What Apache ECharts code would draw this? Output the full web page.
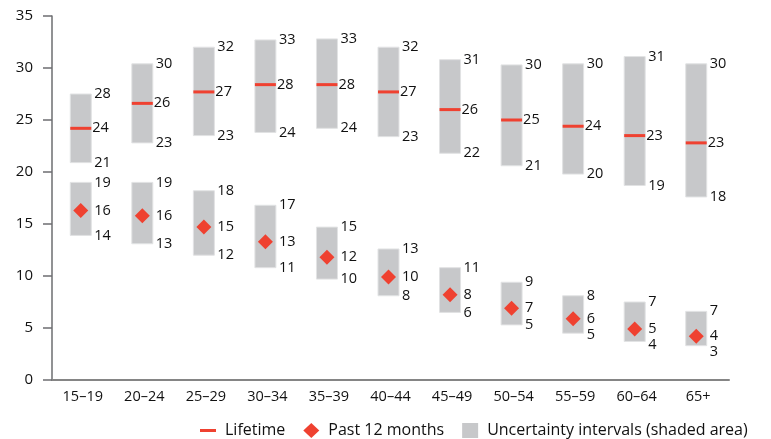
<!DOCTYPE html>
<html>
<head>
<meta charset="utf-8">
<script src="https://cdn.jsdelivr.net/npm/echarts@6/dist/echarts.min.js"></script>
<style>
  html, body { margin: 0; padding: 0; background: #fff; }
  #main { width: 771px; height: 439px; }
</style>
</head>
<body>
<div id="main"></div>
<script>
// categories
let ageGroups = ['15–19', '20–24', '25–29', '30–34', '35–39', '40–44', '45–49', '50–54', '55–59', '60–64', '65+']
let yTicks = [0, 5, 10, 15, 20, 25, 30, 35]

// lifetime (estimate + uncertainty interval)
let lifeMid = [24.2, 26.6, 27.7, 28.4, 28.4, 27.7, 26.0, 25.0, 24.4, 23.5, 22.8]
let lifeLow = [20.9, 22.8, 23.5, 23.8, 24.2, 23.4, 21.8, 20.6, 19.8, 18.7, 17.6]
let lifeHigh = [27.5, 30.4, 32.0, 32.7, 32.8, 32.0, 30.8, 30.3, 30.4, 31.1, 30.4]
let lifeMidLabel = ['24', '26', '27', '28', '28', '27', '26', '25', '24', '23', '23']
let lifeLowLabel = ['21', '23', '23', '24', '24', '23', '22', '21', '20', '19', '18']
let lifeHighLabel = ['28', '30', '32', '33', '33', '32', '31', '30', '30', '31', '30']

// past 12 months (estimate + uncertainty interval)
let pastMid = [16.3, 15.8, 14.7, 13.3, 11.8, 9.9, 8.2, 6.9, 5.9, 4.9, 4.2]
let pastLow = [13.9, 13.1, 12.0, 10.8, 9.7, 8.1, 6.5, 5.3, 4.5, 3.7, 3.3]
let pastHigh = [19.0, 19.0, 18.2, 16.8, 14.7, 12.6, 10.8, 9.4, 8.1, 7.5, 6.6]
let pastMidLabel = ['16', '16', '15', '13', '12', '10', '8', '7', '6', '5', '4']
let pastLowLabel = ['14', '13', '12', '11', '10', '8', '6', '5', '5', '4', '3']
let pastHighLabel = ['19', '19', '18', '17', '15', '13', '11', '9', '8', '7', '7']

const RED = '#ef4130'
const GREY = '#c7c8ca'
const TEXT = '#111111'
const FONT = '"Open Sans", sans-serif'
const BAR_W = 21
const SHIFT = -2
const MIN_GAP = 16 // keeps interval labels clear of the estimate label

let chart = echarts.init(document.getElementById('main'))

// grey interval box with the high / low numbers on its right
function renderInterval (params, api) {
  let x = api.value(0)
  let lo = api.coord([x, api.value(1)])
  let hi = api.coord([x, api.value(2)])
  let mid = api.coord([x, api.value(5)])
  let left = hi[0] - BAR_W / 2 + SHIFT
  let textX = left + BAR_W + 3
  let hiY = Math.min(hi[1], mid[1] - MIN_GAP)
  let loY = Math.max(lo[1], mid[1] + MIN_GAP)
  return {
    type: 'group',
    children: [{
      type: 'rect',
      shape: { x: left, y: hi[1], width: BAR_W, height: lo[1] - hi[1] },
      style: { fill: GREY, stroke: '#e2e3e4', lineWidth: 1 }
    }, {
      type: 'text',
      style: { text: api.value(4), x: textX, y: hiY, verticalAlign: 'middle', fill: TEXT, font: '14.5px ' + FONT }
    }, {
      type: 'text',
      style: { text: api.value(3), x: textX, y: loY, verticalAlign: 'middle', fill: TEXT, font: '14.5px ' + FONT }
    }]
  }
}

// red horizontal tick for the lifetime estimate
function renderLifetime (params, api) {
  let p = api.coord([api.value(0), api.value(1)])
  let left = p[0] - BAR_W / 2 + SHIFT
  return {
    type: 'group',
    children: [{
      type: 'rect',
      shape: { x: left, y: p[1] - 1.5, width: BAR_W, height: 3 },
      style: { fill: RED }
    }, {
      type: 'text',
      style: { text: api.value(2), x: left + BAR_W + 1, y: p[1], verticalAlign: 'middle', fill: TEXT, font: '14.5px ' + FONT }
    }]
  }
}

let lifeIntervals = ageGroups.map((c, i) => [i, lifeLow[i], lifeHigh[i], lifeLowLabel[i], lifeHighLabel[i], lifeMid[i]])
let pastIntervals = ageGroups.map((c, i) => [i, pastLow[i], pastHigh[i], pastLowLabel[i], pastHighLabel[i], pastMid[i]])
let lifePoints = ageGroups.map((c, i) => [i, lifeMid[i], lifeMidLabel[i]])
let pastPoints = ageGroups.map((c, i) => [i, pastMid[i], pastMidLabel[i]])

chart.setOption({
  animation: false,
  textStyle: { fontFamily: FONT },
  grid: {
    left: 52,
    right: 42,
    top: 16,
    bottom: 59
  },
  xAxis: {
    type: 'category',
    data: ageGroups,
    axisLine: { show: true, lineStyle: { color: '#858585', width: 2 } },
    axisTick: { show: false },
    axisLabel: { color: TEXT, fontSize: 14.5, margin: 9 }
  },
  yAxis: {
    type: 'value',
    min: yTicks[0],
    max: yTicks[yTicks.length - 1],
    interval: 5,
    axisLine: { show: true, lineStyle: { color: '#6d6e71', width: 1.5 } },
    axisTick: { show: true, length: 9, lineStyle: { color: '#6d6e71', width: 1.5 } },
    axisLabel: { color: TEXT, fontSize: 15, margin: 19 },
    splitLine: { show: false }
  },
  legend: {
    left: 200,
    top: 422,
    width: 571,
    padding: 0,
    itemWidth: 16,
    itemHeight: 15,
    itemGap: 18,
    textStyle: { color: TEXT, fontSize: 16, lineHeight: 17, padding: [0, 0, 0, 4] },
    data: [
      { name: 'Lifetime', icon: 'path://M0,0 L16,0 L16,3 L0,3 Z' },
      { name: 'Past 12 months', icon: 'diamond' },
      { name: 'Uncertainty intervals (shaded area)', icon: 'rect' }
    ]
  },
  series: [{
    name: 'Uncertainty intervals (shaded area)',
    type: 'custom',
    renderItem: renderInterval,
    itemStyle: { color: GREY },
    encode: { x: 0, y: [1, 2] },
    data: lifeIntervals,
    z: 1
  }, {
    name: 'Uncertainty intervals (shaded area)',
    type: 'custom',
    renderItem: renderInterval,
    itemStyle: { color: GREY },
    encode: { x: 0, y: [1, 2] },
    data: pastIntervals,
    z: 1
  }, {
    name: 'Lifetime',
    type: 'custom',
    renderItem: renderLifetime,
    itemStyle: { color: RED },
    encode: { x: 0, y: 1 },
    data: lifePoints,
    z: 3
  }, {
    name: 'Past 12 months',
    type: 'scatter',
    symbol: 'diamond',
    symbolSize: 15,
    symbolOffset: [SHIFT, 0],
    itemStyle: { color: RED, opacity: 1 },
    label: {
      show: true,
      position: 'right',
      distance: 6,
      color: TEXT,
      fontSize: 14.5,
      formatter: p => p.data[2]
    },
    data: pastPoints,
    z: 3
  }]
})
</script>
</body>
</html>
